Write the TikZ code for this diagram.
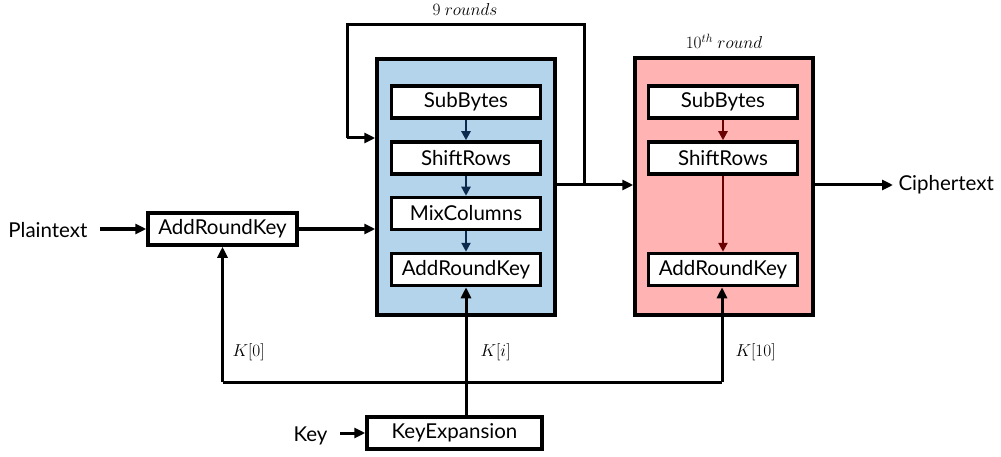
\documentclass[tikz,border=0pt]{standalone}
\usepackage{fontspec}
\setmainfont{Lato}
\usetikzlibrary{arrows.meta}
\definecolor{roundblue}{HTML}{B4D4EC}
\definecolor{roundred}{HTML}{FFB3B3}
\definecolor{navyarr}{HTML}{0B2A4E}
\definecolor{darkred}{HTML}{6A0000}
\begin{document}
\begin{tikzpicture}[x=1pt,y=-1pt,
  stepbox/.style={draw=black,line width=3.5pt,fill=white,minimum width=149pt,minimum height=32pt,inner sep=0pt,font=\fontsize{20.5}{24}\selectfont},
  roundbox/.style={draw=black,line width=3.5pt},
  conn/.style={line width=3pt,-{Triangle[length=11pt,width=10pt]}},
  plain/.style={line width=3pt},
  inarr/.style={line width=2.8pt,-{Triangle[length=9pt,width=9pt]}},
  lbl/.style={font=\fontsize{20.5}{24}\selectfont},
  klbl/.style={font=\fontsize{17}{20}\selectfont},
]
\useasboundingbox (0,0) rectangle (1001,457);
% round boxes
\node[roundbox,fill=roundblue,minimum width=178pt,minimum height=256pt,inner sep=0pt] (blue) at (466,187) {};
\node[roundbox,fill=roundred,minimum width=178pt,minimum height=257pt,inner sep=0pt] (red) at (724,186.5) {};
% blue stages
\node[stepbox] (sb1) at (466,102) {SubBytes};
\node[stepbox] (sr1) at (466,158) {ShiftRows};
\node[stepbox] (mc1) at (466,213.5) {MixColumns};
\node[stepbox] (ark1) at (466,269.5) {AddRoundKey};
% red stages
\node[stepbox] (sb2) at (723,102) {SubBytes};
\node[stepbox] (sr2) at (723,158) {ShiftRows};
\node[stepbox] (ark2) at (723,269.5) {AddRoundKey};
% inner arrows
\draw[inarr,navyarr] (sb1) -- (sr1);
\draw[inarr,navyarr] (sr1) -- (mc1);
\draw[inarr,navyarr] (mc1) -- (ark1);
\draw[inarr,darkred] (sb2) -- (sr2);
\draw[inarr,darkred] (sr2) -- (ark2);
% left side
\node[lbl,anchor=east] (pt) at (91,230) {Plaintext};
\node[stepbox] (ark0) at (222.5,229) {AddRoundKey};
\coordinate (ptstart) at (100,229);
\draw[conn] (ptstart) -- (ark0.west);
\draw[conn] (ark0.east) -- (ark0.east -| blue.west);
% loop
\coordinate (tl) at (347,25);
\coordinate (tr) at (584,25);
\coordinate (loopturn) at (347,138);
\coordinate (split) at (584,185);
\draw[plain] (blue.east |- split) -- (split);
\draw[conn] (split) -- (split -| red.west);
\draw[plain,line join=miter] (split) -- (tr) -- (tl) -- (loopturn);
\draw[conn] (loopturn) -- (loopturn -| blue.west);
\node[klbl] (nine) at (465,10) {$9\ rounds$};
\node[klbl] (tenth) at (724,41) {$10^{th}\ round$};
% output
\draw[conn] (red.east |- split) -- (893,185);
\node[lbl,anchor=west] (ct) at (895,185) {Ciphertext};
% key schedule
\node[stepbox,minimum width=175pt] (ke) at (454.5,433) {KeyExpansion};
\node[lbl,anchor=east] (key) at (331,436) {Key};
\coordinate (keystart) at (340,433);
\draw[conn] (keystart) -- (ke.west);
\coordinate (kj) at (466,382);
\coordinate (kl) at (222.5,382);
\coordinate (kr) at (722,382);
\draw[plain] (ke.north -| kj) -- (kj);
\draw[conn] (kj) -- (ark1.south);
\draw[plain,line join=miter] (kl) -- (kr);
\draw[conn] (kl) -- (ark0.south);
\draw[conn] (kr) -- (ark2.south -| kr);
\node[klbl,anchor=west] (k0) at (229,352) {$K[0]$};
\node[klbl,anchor=west] (ki) at (477,352) {$K[i]$};
\node[klbl,anchor=west] (k10) at (732,352) {$K[10]$};
\end{tikzpicture}
\end{document}
